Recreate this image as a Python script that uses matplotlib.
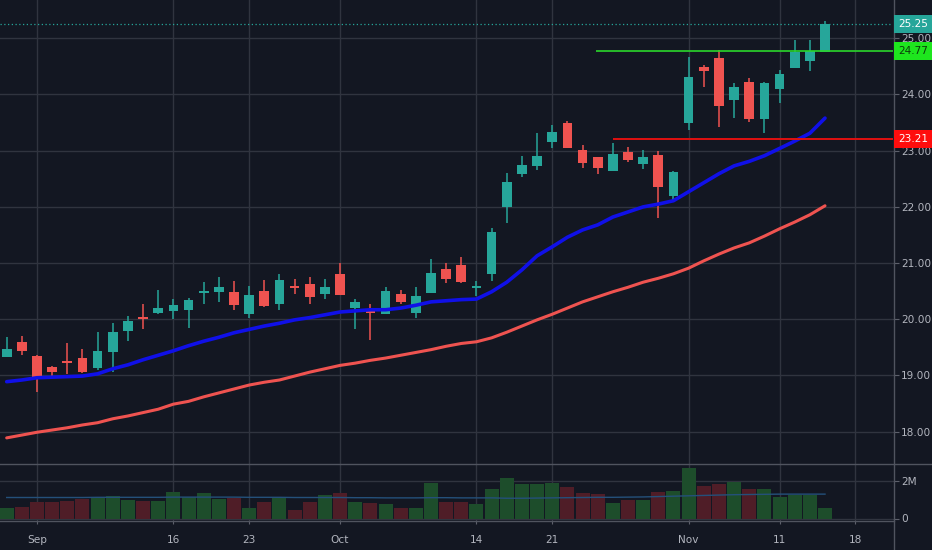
import matplotlib
matplotlib.use("Agg")
import matplotlib.pyplot as plt
from matplotlib.patches import Rectangle
from matplotlib.transforms import blended_transform_factory
import numpy as np

# ---------------- data ----------------
idx = list(range(-2, 53))  # trading-day index, 0 = Sep 3
opens = [19.33, 19.60, 19.35, 19.15, 19.24, 19.32, 19.13, 19.42, 19.80, 20.02,
         20.11, 20.15, 20.17, 20.46, 20.49, 20.49, 20.10, 20.50, 20.28, 20.58,
         20.62, 20.45, 20.81, 20.20, 20.17, 20.10, 20.45, 20.12, 20.47, 20.90,
         20.97, 20.55, 20.81, 22.00, 22.58, 22.73, 23.16, 23.50, 23.02, 22.88,
         22.64, 22.97, 22.76, 22.93, 22.19, 23.50, 24.49, 24.65, 23.90, 24.23,
         23.56, 24.10, 24.48, 24.60, 24.75]
highs = [19.68, 19.70, 19.36, 19.17, 19.58, 19.48, 19.78, 19.93, 20.05, 20.27,
         20.52, 20.37, 20.38, 20.66, 20.75, 20.68, 20.60, 20.70, 20.80, 20.71,
         20.76, 20.72, 21.01, 20.37, 20.28, 20.58, 20.52, 20.58, 21.07, 21.00,
         21.11, 20.68, 21.62, 22.60, 22.91, 23.32, 23.46, 23.52, 23.11, 22.89,
         23.14, 23.07, 23.01, 22.99, 22.64, 24.67, 24.52, 24.79, 24.21, 24.29,
         24.22, 24.44, 24.97, 24.97, 25.30]
lows = [19.33, 19.36, 18.71, 18.97, 19.02, 19.05, 19.10, 19.07, 19.62, 19.82,
        20.10, 20.00, 19.85, 20.27, 20.30, 20.16, 20.03, 20.21, 20.16, 20.45,
        20.28, 20.36, 20.43, 19.82, 19.64, 20.09, 20.28, 20.03, 20.46, 20.65,
        20.65, 20.41, 20.69, 21.72, 22.53, 22.66, 23.05, 23.05, 22.70, 22.59,
        22.64, 22.80, 22.67, 21.81, 22.09, 23.36, 24.14, 23.43, 23.58, 23.51,
        23.31, 23.85, 24.47, 24.42, 24.75]
closes = [19.47, 19.44, 18.94, 19.06, 19.22, 19.07, 19.44, 19.77, 19.97, 20.00,
          20.20, 20.25, 20.34, 20.50, 20.58, 20.25, 20.43, 20.24, 20.70, 20.56,
          20.40, 20.58, 20.43, 20.30, 20.11, 20.51, 20.30, 20.41, 20.82, 20.72,
          20.66, 20.58, 21.55, 22.45, 22.74, 22.91, 23.33, 23.05, 22.78, 22.70,
          22.94, 22.83, 22.89, 22.35, 22.62, 24.31, 24.42, 23.80, 24.13, 23.56,
          24.21, 24.36, 24.75, 24.78, 25.25]
volumes_m = [0.58, 0.63, 0.90, 0.90, 0.95, 1.02, 1.16, 1.20, 0.99, 0.95,
             0.95, 1.40, 1.13, 1.34, 1.02, 1.08, 0.54, 0.90, 1.16, 0.45,
             0.90, 1.25, 1.34, 0.90, 0.84, 0.77, 0.58, 0.58, 1.88, 0.90,
             0.90, 0.76, 1.56, 2.18, 1.82, 1.82, 1.88, 1.70, 1.34, 1.29,
             0.84, 0.99, 0.99, 1.40, 1.47, 2.68, 1.73, 1.84, 1.96, 1.56,
             1.56, 1.13, 1.25, 1.25, 0.54]
ma_fast = [18.89, 18.92, 18.96, 18.97, 18.98, 18.99, 19.03, 19.12, 19.19, 19.28,
           19.36, 19.44, 19.53, 19.61, 19.68, 19.76, 19.82, 19.88, 19.93, 19.99,
           20.03, 20.08, 20.13, 20.15, 20.17, 20.17, 20.20, 20.25, 20.31, 20.33,
           20.35, 20.36, 20.49, 20.66, 20.88, 21.13, 21.29, 21.46, 21.59, 21.68,
           21.82, 21.91, 22.00, 22.05, 22.11, 22.27, 22.43, 22.59, 22.73, 22.81,
           22.91, 23.04, 23.17, 23.31, 23.58]
ma_slow = [17.89, 17.94, 17.99, 18.03, 18.07, 18.12, 18.16, 18.23, 18.28, 18.34,
           18.40, 18.49, 18.54, 18.62, 18.69, 18.76, 18.83, 18.88, 18.92, 18.99,
           19.06, 19.12, 19.18, 19.22, 19.27, 19.31, 19.36, 19.41, 19.46, 19.52,
           19.57, 19.60, 19.67, 19.77, 19.88, 19.99, 20.09, 20.20, 20.31, 20.40,
           20.49, 20.57, 20.66, 20.73, 20.81, 20.91, 21.04, 21.16, 21.27, 21.36,
           21.48, 21.61, 21.73, 21.86, 22.02]
vol_ma_m = [1.12, 1.12, 1.12, 1.12, 1.12, 1.12, 1.13, 1.13, 1.13, 1.13,
            1.13, 1.14, 1.14, 1.14, 1.14, 1.14, 1.13, 1.13, 1.13, 1.12,
            1.12, 1.12, 1.12, 1.11, 1.11, 1.10, 1.10, 1.10, 1.11, 1.11,
            1.10, 1.10, 1.10, 1.08, 1.08, 1.09, 1.10, 1.11, 1.12, 1.13,
            1.13, 1.14, 1.15, 1.17, 1.19, 1.21, 1.23, 1.25, 1.27, 1.28,
            1.29, 1.30, 1.30, 1.30, 1.30]
date_tick_pos = [0, 9, 14, 20, 29, 34, 43, 49, 54]
date_tick_labels = ["Sep", "16", "23", "Oct", "14", "21", "Nov", "11", "18"]
price_ticks = [18, 19, 20, 21, 22, 23, 24, 25]
last_price = 25.25
resist_level = 24.77
resist_start = 37
support_level = 23.21
support_start = 38
vol_ticks = [0, 2]
vol_tick_labels = ["0", "2M"]

# ---------------- style ----------------
BG = "#131722"
GRID = "#30343f"
SEP = "#50545f"
TXT = "#b2b5be"
UP = "#26a69a"
DN = "#ef5350"
VUP = "#1d4d2b"
VDN = "#4f1d27"

W, H = 932, 550
fig = plt.figure(figsize=(W / 100, H / 100), dpi=100, facecolor=BG)
ax = fig.add_axes([0, (H - 463) / H, 893 / W, 463 / H], facecolor=BG)
axv = fig.add_axes([0, (H - 520) / H, 893 / W, 57 / H], facecolor=BG, sharex=ax)

x = np.array(idx)
o = np.array(opens); c = np.array(closes)
hi = np.array(highs); lo = np.array(lows)
up = c >= o
cols = np.where(up, UP, DN)

ax.set_xlim(-37 / 15.154, (893 - 37) / 15.154)
ax.set_ylim(25 - (463 - 38.3) / 56.2, 25 + 38.3 / 56.2)

# grid
for t in date_tick_pos:
    ax.axvline(t, color=GRID, lw=1, zorder=0)
    axv.axvline(t, color=GRID, lw=1, zorder=0)
for p in price_ticks:
    ax.axhline(p, color=GRID, lw=1, zorder=0)

# candles
ax.vlines(x, lo, hi, colors=cols, lw=1.1, zorder=3)
body_bot = np.minimum(o, c)
body_h = np.maximum(np.abs(c - o), 0.035)
ax.bar(x, body_h, bottom=body_bot, width=0.64, color=cols, zorder=4, linewidth=0)

# moving averages
ax.plot(x, ma_fast, color="#1010e8", lw=2.6, zorder=5, solid_capstyle="round")
ax.plot(x, ma_slow, color="#ef5350", lw=2.2, zorder=5, solid_capstyle="round")

# horizontal levels
ax.axhline(last_price, color=UP, lw=0.9, ls=(0, (1, 2)), zorder=2)
ax.hlines(resist_level, resist_start - 0.1, ax.get_xlim()[1], color="#2bd62b", lw=1.2, zorder=6)
ax.hlines(support_level, support_start, ax.get_xlim()[1], color="#e01010", lw=1.4, zorder=6)

# right axis
ax.yaxis.tick_right()
ax.set_yticks(price_ticks)
ax.set_yticklabels([f"{p:.2f}" for p in price_ticks])
ax.tick_params(axis="y", colors="#5d606b", labelcolor=TXT, length=4, width=0.8,
               labelsize=7.6, pad=2)
ax.tick_params(axis="x", bottom=False, labelbottom=False)
for s in ax.spines.values():
    s.set_visible(False)

# price label boxes
btr = blended_transform_factory(fig.transFigure, ax.transData)
hh = 18 / 56.2
for val, fc, tc in [(last_price, UP, "white"), (resist_level, "#1ee61e", "#0b3d0b"),
                    (support_level, "#ff0d0d", "white")]:
    fig.add_artist(Rectangle((893.5 / W, val - hh / 2), 38.5 / W, hh, transform=btr,
                             facecolor=fc, edgecolor="none", zorder=10, clip_on=False))
    fig.add_artist(plt.Text(913 / W, val, f"{val:.2f}", transform=btr, ha="center",
                            va="center", color=tc, fontsize=7.6, zorder=11))

# volume
vcols = np.where(up, VUP, VDN)
axv.bar(x, volumes_m, width=0.92, color=vcols, linewidth=0, zorder=2)
axv.plot(x, vol_ma_m, color="#24507a", lw=1.0, zorder=3)
axv.set_ylim(-(520 - 518.5) / 18.75, (518.5 - 463) / 18.75)
axv.yaxis.tick_right()
axv.set_yticks(vol_ticks)
axv.set_yticklabels(vol_tick_labels)
for v in vol_ticks:
    axv.axhline(v, color=GRID, lw=1, zorder=0)
axv.tick_params(axis="y", colors="#5d606b", labelcolor=TXT, length=4, width=0.8,
                labelsize=7.6, pad=2)
axv.set_xticks(date_tick_pos)
axv.set_xticklabels(date_tick_labels)
axv.tick_params(axis="x", colors="#5d606b", labelcolor=TXT, length=3, width=0.8,
                labelsize=7.6, pad=8)
for s in axv.spines.values():
    s.set_visible(False)

# separators
fig.add_artist(plt.Line2D([893.5 / W, 893.5 / W], [0, 1], color=SEP, lw=1, transform=fig.transFigure))
fig.add_artist(plt.Line2D([0, 1], [(H - 463.5) / H] * 2, color=SEP, lw=1, transform=fig.transFigure))
fig.add_artist(plt.Line2D([0, 893.5 / W], [(H - 520.5) / H] * 2, color=SEP, lw=1, transform=fig.transFigure))

fig.savefig("out.png", dpi=100, facecolor=BG)
